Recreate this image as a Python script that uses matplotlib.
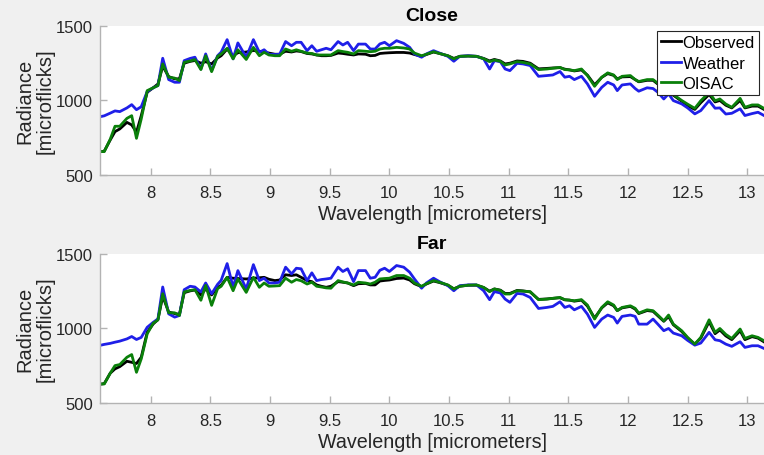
import matplotlib
matplotlib.use("Agg")
import matplotlib.pyplot as plt

plt.rcParams['font.family'] = ['Liberation Sans', 'DejaVu Sans']

# wavelength samples [micrometers]
wavelength = [
    7.57, 7.61, 7.66, 7.70, 7.74, 7.80, 7.84, 7.88, 7.92, 7.97,
    8.02, 8.06, 8.10, 8.15, 8.20, 8.24, 8.28, 8.33, 8.37, 8.42,
    8.46, 8.51, 8.56, 8.59, 8.64, 8.69, 8.73, 8.80, 8.86, 8.91,
    8.95, 8.99, 9.04, 9.08, 9.13, 9.18, 9.22, 9.26, 9.31, 9.35,
    9.39, 9.43, 9.47, 9.51, 9.57, 9.61, 9.65, 9.70, 9.74, 9.80,
    9.84, 9.88, 9.92, 9.96, 10.00, 10.06, 10.12, 10.17, 10.21, 10.27,
    10.31, 10.37, 10.42, 10.49, 10.54, 10.59, 10.66, 10.73, 10.79, 10.84,
    10.88, 10.93, 10.97, 11.01, 11.07, 11.12, 11.18, 11.25, 11.32, 11.37,
    11.43, 11.47, 11.51, 11.55, 11.61, 11.66, 11.72, 11.78, 11.83, 11.88,
    11.91, 11.95, 12.02, 12.06, 12.09, 12.16, 12.21, 12.25, 12.30, 12.34,
    12.38, 12.45, 12.50, 12.56, 12.61, 12.68, 12.73, 12.77, 12.82, 12.87,
    12.94, 12.98, 13.04, 13.09, 13.14,
]

# Close
obs_close = [
    655, 660, 735, 791, 809, 853, 836, 787, 898, 1055,
    1085, 1110, 1230, 1160, 1145, 1145, 1250, 1262, 1268, 1250,
    1260, 1245, 1285, 1300, 1345, 1300, 1320, 1325, 1335, 1330,
    1325, 1318, 1310, 1310, 1330, 1325, 1332, 1328, 1315, 1312,
    1305, 1300, 1300, 1302, 1318, 1315, 1310, 1305, 1312, 1310,
    1300, 1302, 1315, 1318, 1320, 1322, 1322, 1318, 1308, 1296,
    1308, 1325, 1315, 1300, 1282, 1296, 1298, 1296, 1282, 1265,
    1275, 1265, 1245, 1250, 1265, 1262, 1250, 1212, 1215, 1218,
    1220, 1210, 1205, 1198, 1205, 1170, 1105, 1155, 1180, 1168,
    1145, 1158, 1160, 1140, 1125, 1135, 1135, 1110, 1070, 1050,
    1035, 995, 965, 940, 985, 1040, 990, 1000, 968, 950,
    1000, 950, 962, 962, 940,
]
weather_close = [
    890, 897, 915, 930, 925, 950, 972, 938, 958, 1060,
    1085, 1100, 1283, 1140, 1122, 1122, 1267, 1282, 1290, 1211,
    1312, 1200, 1300, 1324, 1408, 1279, 1386, 1290, 1408, 1323,
    1340, 1310, 1308, 1310, 1395, 1367, 1390, 1390, 1334, 1367,
    1330, 1340, 1350, 1340, 1395, 1372, 1390, 1334, 1378, 1378,
    1345, 1345, 1379, 1390, 1367, 1401, 1383, 1356, 1312, 1290,
    1312, 1334, 1318, 1296, 1263, 1296, 1300, 1296, 1279, 1211,
    1267, 1260, 1211, 1200, 1249, 1245, 1234, 1162, 1167, 1171,
    1194, 1156, 1162, 1140, 1162, 1111, 1028, 1088, 1122, 1104,
    1066, 1104, 1111, 1080, 1062, 1085, 1080, 1055, 1010, 1044,
    999, 977, 950, 910, 932, 999, 948, 950, 909, 914,
    944, 899, 912, 921, 899,
]
oisac_close = [
    657, 657, 740, 827, 827, 880, 898, 746, 876, 1066,
    1085, 1100, 1245, 1156, 1150, 1133, 1256, 1265, 1274, 1207,
    1300, 1193, 1296, 1312, 1350, 1279, 1340, 1275, 1356, 1300,
    1323, 1305, 1300, 1300, 1345, 1330, 1340, 1330, 1318, 1315,
    1305, 1305, 1305, 1305, 1334, 1328, 1323, 1312, 1334, 1330,
    1327, 1330, 1345, 1350, 1350, 1356, 1352, 1345, 1318, 1300,
    1310, 1327, 1315, 1300, 1279, 1296, 1298, 1296, 1280, 1260,
    1271, 1262, 1238, 1245, 1260, 1255, 1245, 1207, 1211, 1216,
    1222, 1207, 1205, 1200, 1211, 1167, 1095, 1156, 1185, 1171,
    1140, 1162, 1167, 1140, 1127, 1140, 1140, 1115, 1077, 1060,
    1040, 1000, 975, 947, 998, 1054, 998, 1010, 976, 954,
    1014, 954, 970, 970, 947,
]

# Far
obs_far = [
    625, 630, 700, 729, 744, 780, 773, 765, 807, 975,
    1030, 1060, 1215, 1110, 1100, 1095, 1240, 1252, 1258, 1225,
    1265, 1225, 1275, 1290, 1343, 1337, 1335, 1332, 1337, 1340,
    1343, 1330, 1321, 1325, 1360, 1355, 1360, 1343, 1321, 1314,
    1292, 1283, 1276, 1283, 1314, 1310, 1305, 1287, 1300, 1302,
    1292, 1292, 1318, 1322, 1325, 1335, 1338, 1325, 1300, 1280,
    1298, 1318, 1308, 1290, 1266, 1283, 1290, 1290, 1275, 1250,
    1265, 1257, 1235, 1235, 1255, 1252, 1245, 1195, 1198, 1202,
    1206, 1192, 1190, 1183, 1190, 1150, 1070, 1138, 1172, 1152,
    1120, 1138, 1148, 1130, 1100, 1120, 1115, 1085, 1048, 1080,
    1025, 980, 935, 895, 935, 1045, 965, 990, 950, 925,
    985, 925, 945, 935, 910,
]
weather_far = [
    886, 893, 900, 908, 915, 930, 946, 926, 940, 1008,
    1041, 1064, 1278, 1098, 1076, 1087, 1260, 1283, 1278, 1245,
    1305, 1233, 1296, 1323, 1435, 1276, 1388, 1265, 1428, 1321,
    1337, 1305, 1305, 1310, 1411, 1366, 1404, 1400, 1321, 1373,
    1321, 1328, 1332, 1337, 1411, 1382, 1400, 1314, 1388, 1388,
    1337, 1343, 1390, 1404, 1382, 1422, 1411, 1377, 1332, 1270,
    1305, 1337, 1314, 1287, 1253, 1287, 1292, 1292, 1253, 1193,
    1247, 1238, 1197, 1175, 1235, 1231, 1208, 1134, 1141, 1148,
    1179, 1141, 1152, 1125, 1148, 1096, 1007, 1063, 1090, 1074,
    1036, 1081, 1090, 1081, 1029, 1029, 1063, 1029, 985, 1000,
    969, 951, 920, 888, 902, 974, 924, 918, 895, 880,
    911, 873, 884, 884, 866,
]
oisac_far = [
    628, 628, 700, 751, 758, 807, 825, 706, 796, 964,
    1035, 1057, 1233, 1105, 1105, 1087, 1245, 1255, 1260, 1189,
    1289, 1155, 1267, 1283, 1343, 1253, 1332, 1242, 1343, 1276,
    1305, 1283, 1285, 1287, 1337, 1310, 1328, 1320, 1298, 1310,
    1283, 1278, 1272, 1270, 1321, 1312, 1305, 1292, 1310, 1305,
    1298, 1310, 1332, 1335, 1337, 1355, 1355, 1337, 1305, 1283,
    1300, 1321, 1310, 1292, 1265, 1283, 1290, 1292, 1275, 1247,
    1265, 1255, 1231, 1231, 1253, 1250, 1247, 1193, 1197, 1202,
    1208, 1193, 1190, 1186, 1193, 1157, 1063, 1141, 1179, 1157,
    1119, 1141, 1152, 1135, 1103, 1125, 1119, 1090, 1051, 1090,
    1029, 985, 940, 895, 940, 1058, 974, 1000, 960, 933,
    996, 933, 951, 940, 918,
]

series_names = ['Observed', 'Weather', 'OISAC']
series_colors = ['#000000', '#1f1fe8', '#0a800a']
panels = [('Close', [obs_close, weather_close, oisac_close]),
          ('Far', [obs_far, weather_far, oisac_far])]

fig = plt.figure(figsize=(7.64, 4.56), dpi=100, facecolor='#f0f0f0')
axes_rects = [[0.131, 0.614, 0.869, 0.327], [0.131, 0.114, 0.869, 0.327]]

for rect, (title, data) in zip(axes_rects, panels):
    ax = fig.add_axes(rect)
    for vals, name, col in zip(data, series_names, series_colors):
        ax.plot(wavelength, vals, color=col, lw=2.0, label=name)
    ax.set_xlim(7.575, 13.14)
    ax.set_ylim(500, 1500)
    ax.set_xticks([8, 8.5, 9, 9.5, 10, 10.5, 11, 11.5, 12, 12.5, 13])
    ax.set_xticklabels(['8', '8.5', '9', '9.5', '10', '10.5', '11', '11.5', '12', '12.5', '13'])
    ax.set_yticks([500, 1000, 1500])
    ax.spines['top'].set_visible(False)
    ax.spines['right'].set_visible(False)
    for s in ['left', 'bottom']:
        ax.spines[s].set_color('#b3b3b3')
        ax.spines[s].set_linewidth(1.0)
    ax.tick_params(direction='in', length=5, width=1.0, color='#b3b3b3',
                   labelsize=12, labelcolor='#262626')
    ax.tick_params(axis='x', pad=7)
    ax.tick_params(axis='y', pad=5)
    ax.set_title(title, fontsize=14, fontweight='bold', pad=4)
    ax.set_xlabel('Wavelength [micrometers]', fontsize=14.2, color='#262626', labelpad=3)
    ax.set_ylabel('Radiance\n[microflicks]', fontsize=14.5, color='#262626', labelpad=1,
                  linespacing=1.1)
    if title == 'Close':
        leg = ax.legend(loc='upper right', fontsize=12, handlelength=1.2,
                        handletextpad=0.1, labelspacing=0.33, borderpad=0.25,
                        borderaxespad=0.3, fancybox=False, framealpha=1.0)
        leg.get_frame().set_edgecolor('#262626')
        leg.get_frame().set_linewidth(0.8)

fig.savefig('out.png', dpi=100, facecolor=fig.get_facecolor())
